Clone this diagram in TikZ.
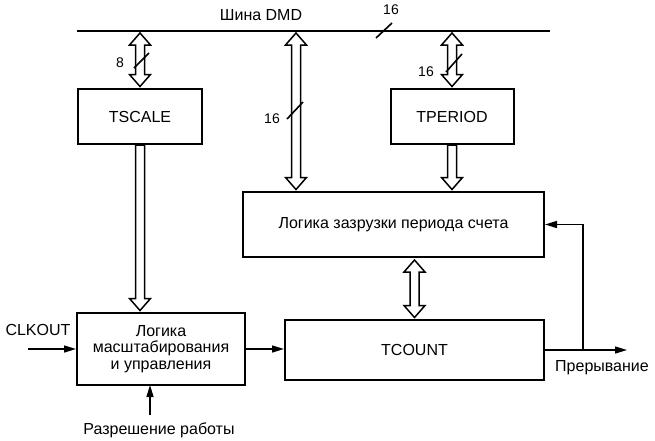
\documentclass[tikz,border=0pt]{standalone}
\usepackage{fontspec}
\setmainfont{Liberation Sans}
\usetikzlibrary{arrows.meta,calc}
\tikzset{
  box/.style={draw, line width=2pt, inner sep=0pt, font=\fontsize{16}{16.5}\selectfont, align=center},
  lbl/.style={inner sep=0pt, font=\fontsize{16}{17}\selectfont},
  num/.style={inner sep=0pt, font=\fontsize{14}{15}\selectfont},
  hollow/.style={draw, line width=1.5pt, fill=white, line join=miter},
  arr/.style={line width=1.5pt, -{Triangle[length=12pt,width=7pt]}},
  slash/.style={line width=1.6pt},
  busline/.style={line width=1.8pt}
}
\newcommand\dblhollow[2]{%
  \draw[hollow] let \p1=#1, \p2=#2 in
    (\x1,\y1-2pt) -- (\x1+10.5pt,\y1-14pt) -- (\x1+4.5pt,\y1-14pt)
    -- (\x1+4.5pt,\y2+13.5pt) -- (\x1+10.5pt,\y2+13.5pt) -- (\x1,\y2+1.5pt)
    -- (\x1-10.5pt,\y2+13.5pt) -- (\x1-4.5pt,\y2+13.5pt)
    -- (\x1-4.5pt,\y1-14pt) -- (\x1-10.5pt,\y1-14pt) -- cycle;}
\newcommand\onehollow[2]{%
  \draw[hollow] let \p1=#1, \p2=#2 in
    (\x1-4.5pt,\y1) -- (\x1+4.5pt,\y1)
    -- (\x1+4.5pt,\y2+13.5pt) -- (\x1+10.5pt,\y2+13.5pt) -- (\x1,\y2+1.5pt)
    -- (\x1-10.5pt,\y2+13.5pt) -- (\x1-4.5pt,\y2+13.5pt) -- cycle;}
\begin{document}
\begin{tikzpicture}[x=1pt,y=-1pt]
\useasboundingbox (0,0) rectangle (655,440);
% bus
\coordinate (busL) at (77,31);
\coordinate (busR) at (550,31);
\coordinate (b16) at (296,31);
\draw[busline] (busL) -- (busR);
\node[lbl] (busname) at (261,15) {Шина DMD};
\node[num] (n16bus) at (391,10) {16};
\draw[slash] (376,38) -- (392,23);
% boxes
\node[box, minimum width=124, minimum height=55] (tscale) at (140,116.5) {TSCALE};
\node[box, minimum width=123, minimum height=55] (tperiod) at (452,116.5) {TPERIOD};
\node[box, minimum width=301, minimum height=65] (load) at (393.5,224.5) {Логика зазрузки периода счета};
\node[box, minimum width=259, minimum height=60] (tcount) at (414.5,350) {TCOUNT};
\node[box, minimum width=168, minimum height=72] (pre) at (161,349) {Логика\\масштабирования\\и управления};
% hollow arrows
\dblhollow{(tscale.north |- busL)}{(tscale.north)}
\draw[slash] (134,68) -- (149,53);
\node[num] (n8) at (120,63) {8};
\dblhollow{(b16)}{(b16 |- load.north)}
\draw[slash] (287,119) -- (303,102);
\node[num] (n16a) at (272,119) {16};
\dblhollow{(tperiod.north |- busL)}{(tperiod.north)}
\draw[slash] (446,72) -- (462,54);
\node[num] (n16b) at (426,72) {16};
\onehollow{(tperiod.south)}{(tperiod.south |- load.north)}
\dblhollow{(tcount.north |- load.south)}{(tcount.north)}
\onehollow{(tscale.south)}{(tscale.south |- pre.north)}
% signal arrows
\coordinate (clk) at (28,349);
\draw[arr] (clk) -- (clk -| pre.west);
\node[lbl] (clklbl) at (38,330) {CLKOUT};
\draw[arr] (pre.east) -- (pre.east -| tcount.west);
\coordinate (en) at (150,415);
\draw[arr] (en) -- ([yshift=1pt]en |- pre.south);
\node[lbl] (enlbl) at (159,430) {Разрешение работы};
\coordinate (irq) at (627,350);
\coordinate (j) at (583,350);
\draw[arr] (tcount.east) -- (irq);
\draw[arr] (j) |- (load.east);
\node[lbl] (irqlbl) at (602,368) {Прерывание};
\end{tikzpicture}
\end{document}
